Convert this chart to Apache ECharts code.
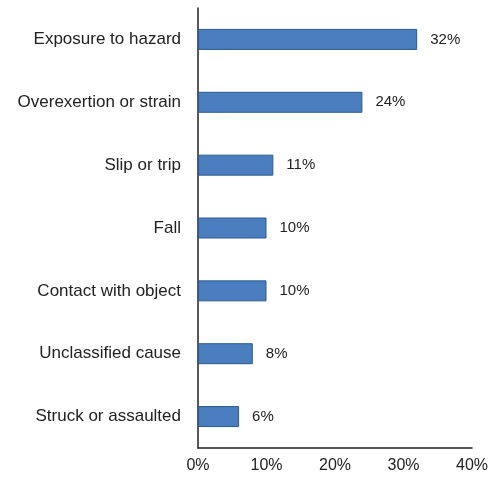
<!DOCTYPE html>
<html><head><meta charset="utf-8">
<script src="https://cdn.jsdelivr.net/npm/echarts@6/dist/echarts.min.js"></script>
<style>html,body{margin:0;padding:0;background:#fff}#c{width:498px;height:481px}</style>
</head><body><div id="c"></div>
<script>
const categories = ["Exposure to hazard","Overexertion or strain","Slip or trip","Fall","Contact with object","Unclassified cause","Struck or assaulted"];
const values = [32, 24, 11, 10, 10, 8, 6];
const xTicks = [0, 10, 20, 30, 40];

const chart = echarts.init(document.getElementById('c'));
chart.setOption({
  animation: false,
  backgroundColor: '#fff',
  grid: {left: 198, right: 26, top: 8, bottom: 33, containLabel: false},
  xAxis: {
    type: 'value', min: xTicks[0], max: xTicks[xTicks.length-1], interval: 10,
    axisLine: {show: true, lineStyle: {color: '#222', width: 1.5}},
    axisTick: {show: false},
    splitLine: {show: false},
    axisLabel: {formatter: '{value}%', color: '#222', fontSize: 16, fontFamily: 'Liberation Sans, Arial', margin: 10}
  },
  yAxis: {
    type: 'category', inverse: true, data: categories,
    axisLine: {show: true, lineStyle: {color: '#222', width: 1.5}},
    axisTick: {show: false},
    axisLabel: {color: '#222', fontSize: 17, fontFamily: 'Liberation Sans, Arial', margin: 17}
  },
  series: [{
    type: 'bar', data: values, barWidth: 21,
    itemStyle: {color: '#4a7ebf', borderColor: '#2d5a8c', borderWidth: 1},
    label: {show: true, position: 'right', distance: 13, formatter: '{c}%', color: '#222', fontSize: 15, fontFamily: 'Liberation Sans, Arial'}
  }]
});
</script></body></html>
